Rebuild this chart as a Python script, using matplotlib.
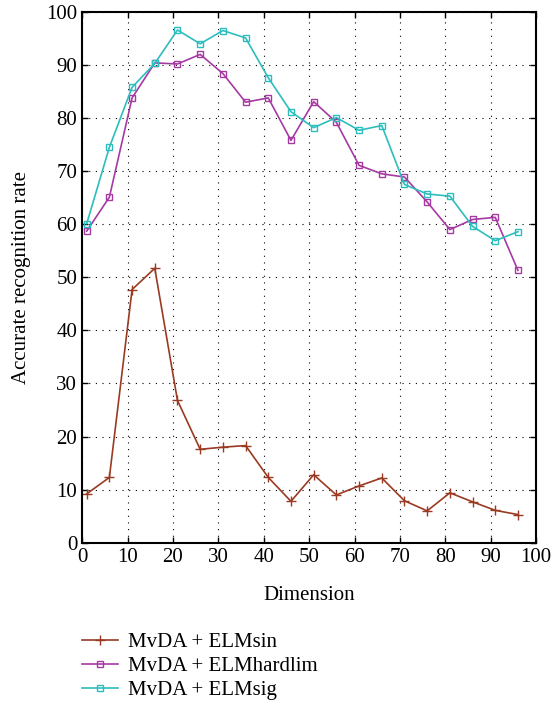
import matplotlib
matplotlib.use("Agg")
import matplotlib.pyplot as plt

plt.rcParams['font.family'] = ['Liberation Serif', 'DejaVu Serif']

# Dimension values and recognition rates
dims = [1, 6, 11, 16, 21, 26, 31, 36, 41, 46, 51, 56, 61, 66, 71, 76, 81, 86, 91, 96]
elm_sin = [9.2, 12.3, 47.7, 51.7, 26.8, 17.6, 18.0, 18.3, 12.3, 7.8,
           12.8, 9.0, 10.7, 12.2, 7.9, 6.0, 9.4, 7.7, 6.1, 5.3]
elm_hardlim = [58.7, 65.1, 83.8, 90.4, 90.2, 92.0, 88.4, 83.0, 83.8, 75.8,
               83.1, 79.2, 71.1, 69.5, 68.9, 64.2, 59.0, 60.9, 61.3, 51.3]
elm_sig = [60.1, 74.5, 85.8, 90.3, 96.6, 94.0, 96.5, 95.1, 87.6, 81.2,
           78.2, 80.1, 77.7, 78.6, 67.5, 65.7, 65.3, 59.6, 56.9, 58.6]
labels = ['MvDA + ELMsin', 'MvDA + ELMhardlim', 'MvDA + ELMsig']

fig = plt.figure(figsize=(5.55, 7.03), dpi=100)
ax = fig.add_axes([0.148, 0.228, 0.818, 0.755])

ax.plot(dims, elm_sin, color='#9a3a22', marker='+', markersize=7, lw=1.2, label=labels[0])
ax.plot(dims, elm_hardlim, color='#a53aa3', marker='s', markersize=5,
        markerfacecolor='none', lw=1.2, label=labels[1])
ax.plot(dims, elm_sig, color='#2dbdbd', marker='s', markersize=5,
        markerfacecolor='none', lw=1.2, label=labels[2])

ax.set_xlim(0, 100)
ax.set_ylim(0, 100)
ax.set_xticks(range(0, 101, 10))
ax.set_yticks(range(0, 101, 10))
ax.tick_params(direction='in', top=True, right=True, labelsize=15, length=4, width=1)
ax.grid(True, linestyle=(0, (1, 5)), color='black', lw=0.8)
for s in ax.spines.values():
    s.set_linewidth(1.5)

ax.set_xlabel('Dimension', fontsize=15, labelpad=14)
ax.set_ylabel('Accurate recognition rate', fontsize=15, labelpad=11)

fig.legend(loc='lower left', bbox_to_anchor=(0.148, 0.004), frameon=False,
           fontsize=15, handlelength=1.7, handletextpad=0.5, labelspacing=0.22,
           borderpad=0, borderaxespad=0)

fig.savefig('out.png', dpi=100)
